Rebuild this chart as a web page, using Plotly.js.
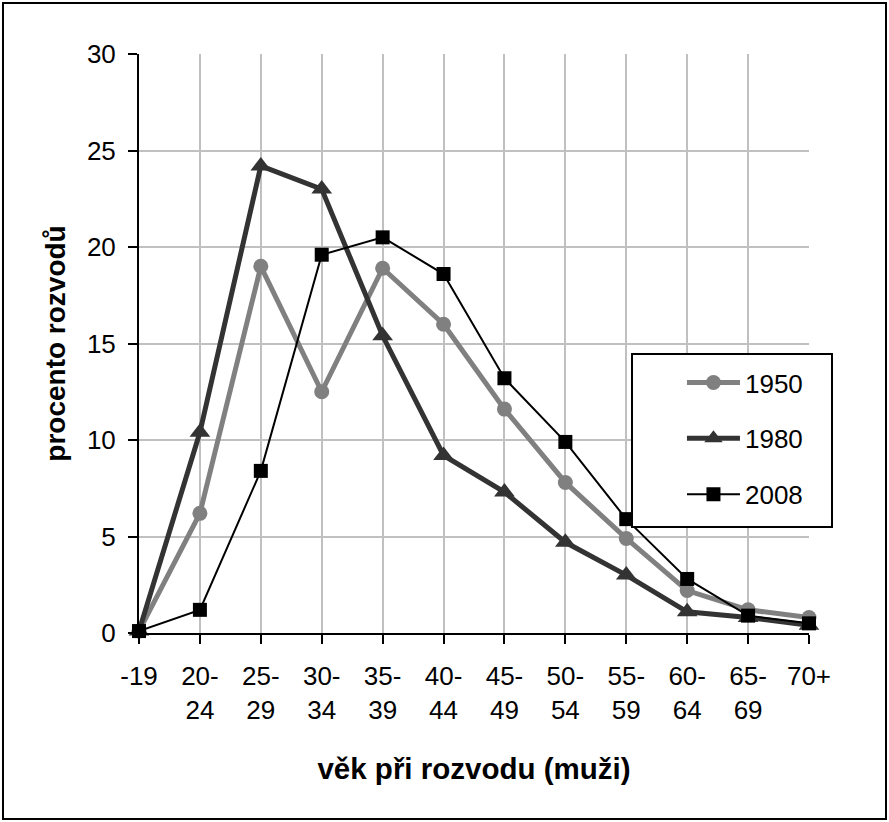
<!DOCTYPE html>
<html>
<head>
<meta charset="utf-8">
<script src="https://cdn.plot.ly/plotly-3.0.1.min.js"></script>
<style>
  html, body { margin: 0; padding: 0; background: #fff; }
  #wrap { position: relative; width: 889px; height: 822px; }
  #chart { position: absolute; left: 0; top: 0; width: 889px; height: 822px; }
  #frame { position: absolute; left: 2px; top: 2px; width: 885px; height: 818px; box-sizing: border-box; border: 2px solid #000; pointer-events: none; }
</style>
</head>
<body>
<div id="wrap">
  <div id="chart"></div>
  <div id="frame"></div>
</div>
<script>
const categories = ['-19','20-24','25-29','30-34','35-39','40-44','45-49','50-54','55-59','60-64','65-69','70+'];
const tickLabels = ['-19','20-<br>24','25-<br>29','30-<br>34','35-<br>39','40-<br>44','45-<br>49','50-<br>54','55-<br>59','60-<br>64','65-<br>69','70+'];
const seriesNames = ['1950','1980','2008'];
const values1950 = [0.1, 6.2, 19.0, 12.5, 18.9, 16.0, 11.6, 7.8, 4.9, 2.2, 1.2, 0.8];
const values1980 = [0.1, 10.4, 24.2, 23.0, 15.4, 9.2, 7.3, 4.7, 3.0, 1.1, 0.8, 0.4];
const values2008 = [0.1, 1.2, 8.4, 19.6, 20.5, 18.6, 13.2, 9.9, 5.9, 2.8, 0.9, 0.5];
const yTickVals = [0, 5, 10, 15, 20, 25, 30];

const FONT = 'Arial, "Liberation Sans", sans-serif';

const traces = [
  {
    x: categories, y: values1950, name: seriesNames[0], legendgroup: 'a',
    type: 'scatter', mode: 'lines+markers', cliponaxis: false,
    line: { color: '#808080', width: 5 },
    marker: { symbol: 'circle', size: 15, color: '#808080' }
  },
  {
    x: categories, y: values1980, name: seriesNames[1], legendgroup: 'b',
    type: 'scatter', mode: 'lines+markers', cliponaxis: false,
    line: { color: '#333333', width: 5 },
    marker: { symbol: 'triangle-up', size: 18, color: '#333333' }
  },
  {
    x: categories, y: values2008, name: seriesNames[2], legendgroup: 'c',
    type: 'scatter', mode: 'lines+markers', cliponaxis: false,
    line: { color: '#000000', width: 2 },
    marker: { symbol: 'square', size: 14, color: '#000000' }
  }
];

const layout = {
  width: 889, height: 822,
  margin: { l: 139, r: 80, t: 54, b: 189, pad: 0 },
  paper_bgcolor: '#ffffff', plot_bgcolor: '#ffffff',
  font: { family: FONT, size: 26, color: '#000' },
  showlegend: true,
  legend: {
    x: 0.8104, xanchor: 'left', y: 0.473, yanchor: 'top',
    bgcolor: 'rgba(0,0,0,0)', borderwidth: 0,
    font: { family: FONT, size: 26, color: '#000' },
    traceorder: 'grouped', tracegroupgap: 19, itemwidth: 53
  },
  shapes: [{
    type: 'rect', xref: 'paper', yref: 'paper',
    x0: (632 - 139) / 670, x1: (832 - 139) / 670,
    y0: (633 - 527) / 579, y1: (633 - 354) / 579,
    line: { color: '#000', width: 2 }, fillcolor: '#fff', layer: 'above'
  }],
  xaxis: {
    type: 'category', range: [0, 11],
    tickmode: 'array', tickvals: categories, ticktext: tickLabels,
    showgrid: true, gridcolor: '#c0c0c0', gridwidth: 2,
    showline: true, linecolor: '#000', linewidth: 2,
    ticks: 'outside', ticklen: 9, tickwidth: 2, tickcolor: '#000',
    ticklabelstandoff: 10,
    tickfont: { family: FONT, size: 26, color: '#000' },
    title: { text: '<b>věk při rozvodu (muži)</b>', font: { family: FONT, size: 29.5, color: '#000' }, standoff: 34 },
    zeroline: false, fixedrange: true, automargin: false
  },
  yaxis: {
    range: [0, 30], tickmode: 'array', tickvals: yTickVals,
    showgrid: true, gridcolor: '#c0c0c0', gridwidth: 2,
    showline: true, linecolor: '#000', linewidth: 2,
    ticks: 'outside', ticklen: 9, tickwidth: 2, tickcolor: '#000',
    ticklabelstandoff: 7,
    tickfont: { family: FONT, size: 26, color: '#000' },
    title: { text: '<b>procento rozvodů</b>', font: { family: FONT, size: 28, color: '#000' }, standoff: 13 },
    zeroline: false, fixedrange: true, automargin: false
  }
};

Plotly.newPlot('chart', traces, layout, { displayModeBar: false, staticPlot: true });
</script>
</body>
</html>
